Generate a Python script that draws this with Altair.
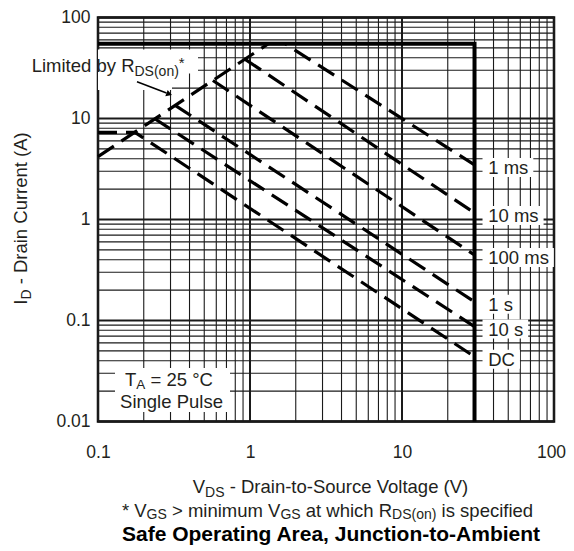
import altair as alt
import pandas as pd

# ---------------- data ----------------
x_grid = [0.1, 0.2, 0.3, 0.4, 0.5, 0.6, 0.7, 0.8, 0.9,
          1, 2, 3, 4, 5, 6, 7, 8, 9,
          10, 20, 30, 40, 50, 60, 70, 80, 90, 100]
y_grid = [0.01, 0.02, 0.03, 0.04, 0.05, 0.06, 0.07, 0.08, 0.09,
          0.1, 0.2, 0.3, 0.4, 0.5, 0.6, 0.7, 0.8, 0.9,
          1, 2, 3, 4, 5, 6, 7, 8, 9,
          10, 20, 30, 40, 50, 60, 70, 80, 90, 100]
x_ticks = [0.1, 1, 10, 100]
y_ticks = [0.01, 0.1, 1, 10, 100]

# package limit (solid thick)
limit_v = [0.1, 30, 30]
limit_i = [55, 55, 0.01]

# R_DS(on) limit (dashed, rising)
rds_v = [0.1, 1.32]
rds_i = [4.2, 55]

# pulse curves (dashed)
curve_names = ["1 ms", "10 ms", "100 ms", "1 s", "10 s", "DC"]
curve_v = [
    [1.32, 1.7, 30],
    [0.93, 30],
    [0.57, 30],
    [0.322, 30],
    [0.235, 30],
    [0.1, 0.175, 30],
]
curve_i = [
    [55, 55, 3.47],
    [38.5, 1.16],
    [23.8, 0.445],
    [13.5, 0.153],
    [10.0, 0.087],
    [7.3, 7.3, 0.0438],
]

FONT = "Liberation Sans"
INK = "#231f20"

# ---------------- text metrics (Arial / Liberation Sans) ----------------
REG = {' ': 278, '(': 333, ')': 333, '*': 389, '-': 333, '.': 278, ',': 278,
       '>': 584, '=': 584, '°': 400}
REG.update({d: 556 for d in '0123456789'})
REG.update(dict(A=667, B=667, C=722, D=722, E=667, F=611, G=778, H=722, I=278, J=500,
                K=667, L=556, M=833, N=722, O=778, P=667, Q=778, R=722, S=667, T=611,
                U=722, V=667, W=944, X=667, Y=667, Z=611))
REG.update(dict(a=556, b=556, c=500, d=556, e=556, f=278, g=556, h=556, i=222, j=222,
                k=500, l=222, m=833, n=556, o=556, p=556, q=556, r=333, s=500, t=278,
                u=556, v=500, w=722, x=500, y=500, z=500))


def tw(s, size):
    return sum(REG.get(c, 556) for c in s) * size / 1000.0


def seg_total(segs):
    return sum(tw(t, s) for t, s, _ in segs)


def seg_layers(segs, x0, y0, angle=0):
    out = []
    pos = 0.0
    for text, size, shift in segs:
        stripped = text.strip()
        lead = len(text) - len(text.lstrip())
        pos += lead * REG[' '] * size / 1000.0
        if angle == 0:
            x, y = x0 + pos, y0 + shift
        else:
            x, y = x0 + shift, y0 - pos
        out.append(
            alt.Chart(pd.DataFrame({"t": [stripped]}))
            .mark_text(align="left", baseline="alphabetic", fontSize=size,
                       font=FONT, color=INK, angle=angle)
            .encode(x=alt.value(x), y=alt.value(y), text="t:N")
        )
        pos += tw(stripped, size)
        trail = len(text) - len(text.rstrip())
        pos += trail * REG[' '] * size / 1000.0
    return out


def centered(segs, cx, y0):
    return seg_layers(segs, cx - seg_total(segs) / 2.0, y0)


# ---------------- scales / axes ----------------
xs = alt.Scale(type="log", domain=[0.1, 100], nice=False)
ys = alt.Scale(type="log", domain=[0.01, 100], nice=False)
xaxis = alt.Axis(values=x_ticks, format="~g", ticks=False, domain=False, grid=False,
                 labelFlush=False, labelPadding=22, labelFontSize=17.5, labelFont=FONT,
                 labelColor=INK, title="",
                 labelOffset={"condition": {"test": "datum.value >= 100", "value": -3},
                              "value": 0})
yaxis = alt.Axis(values=y_ticks, format="~g", ticks=False, domain=False, grid=False,
                 labelFlush=False, labelPadding=8, labelFontSize=17.5, labelFont=FONT,
                 labelColor=INK, title="")


def X(f):
    return alt.X(f, type="quantitative", scale=xs, axis=xaxis)


def Y(f):
    return alt.Y(f, type="quantitative", scale=ys, axis=yaxis)


layers = []

# grid
gx = pd.DataFrame({"V": x_grid,
                   "w": [2.0 if v in x_ticks else 1.1 for v in x_grid]})
gy = pd.DataFrame({"I": y_grid,
                   "w": [2.0 if v in y_ticks else 1.1 for v in y_grid]})
layers.append(alt.Chart(gx).mark_rule(color="#1a1a1a").encode(
    x=X("V"), strokeWidth=alt.StrokeWidth("w:Q", scale=None)))
layers.append(alt.Chart(gy).mark_rule(color="#1a1a1a").encode(
    y=Y("I"), strokeWidth=alt.StrokeWidth("w:Q", scale=None)))

# package limit
lim = pd.DataFrame({"V": limit_v, "I": limit_i, "k": list(range(len(limit_v)))})
layers.append(alt.Chart(lim).mark_line(color="black", strokeWidth=4, strokeJoin="miter").encode(
    x=X("V"), y=Y("I"), order="k:Q"))

# dashed curves
rows = []
for j, (vv, ii) in enumerate(zip([rds_v] + curve_v, [rds_i] + curve_i)):
    for k, (v, i) in enumerate(zip(vv, ii)):
        rows.append({"V": v, "I": i, "s": j, "k": k})
dash = pd.DataFrame(rows)
layers.append(alt.Chart(dash).mark_line(color="black", strokeWidth=3.2,
                                        strokeDash=[19, 9]).encode(
    x=X("V"), y=Y("I"), detail="s:N", order="k:Q"))

# right-hand labels with white boxes
LBL = 18.5
lab_rows = []
for name, vv, ii in zip(curve_names, curve_v, curve_i):
    v_end, i_end = vv[-1], ii[-1]
    w = tw(name, LBL)
    lab_rows.append({
        "name": name, "V": v_end, "I": i_end,
        "V1": v_end * 10 ** (8.0 / 152), "V2": v_end * 10 ** ((13.7 + w + 5.0) / 152),
        "I1": i_end * 10 ** (7.0 / 101), "I2": i_end * 10 ** (-12.0 / 101),
    })
lab = pd.DataFrame(lab_rows)
layers.append(alt.Chart(lab).mark_rect(color="white").encode(
    x=X("V1"), x2="V2", y=Y("I1"), y2="I2"))
layers.append(alt.Chart(lab).mark_text(align="left", baseline="middle", dx=13.7, dy=3,
                                       fontSize=LBL, font=FONT, color=INK).encode(
    x=X("V"), y=Y("I"), text="name:N"))

# annotation boxes
one = pd.DataFrame({"a": [0]})
for (x1, x2, y1, y2) in [(17, 132, 350.5, 394.5), (0, 74, 32, 72.5), (74, 100, 32, 56)]:
    layers.append(alt.Chart(one).mark_rect(color="white").encode(
        x=alt.value(x1), x2=alt.value(x2), y=alt.value(y1), y2=alt.value(y2)))

# "Limited by R_DS(on)*"
layers += seg_layers([("Limited by R", 18.5, 0), ("DS(on)", 14, 4), ("*", 15, -3.5)], -66.3, 54.2)
# arrow
layers.append(alt.Chart(one).mark_rule(color="black", strokeWidth=1.5).encode(
    x=alt.value(39), y=alt.value(64.2), x2=alt.value(68.5), y2=alt.value(75.5)))
layers.append(alt.Chart(one).mark_point(shape="triangle", filled=True, color="black",
                                        size=45, angle=110.8, opacity=1).encode(
    x=alt.value(70.3), y=alt.value(76.2)))

# T_A = 25 °C / Single Pulse
layers += centered([("T", 18.5, 0), ("A", 13.5, 3), (" = 25 °C", 18.5, 0)], 71, 368.7)
layers.append(alt.Chart(one).mark_text(align="center", baseline="alphabetic", fontSize=18.5,
                                       font=FONT, color=INK, text="Single Pulse").encode(
    x=alt.value(73.5), y=alt.value(390.5)))

# axis titles
ysegs = [("I", 18.5, 0), ("D", 14, 4), (" - Drain Current (A)", 18.5, 0)]
layers += seg_layers(ysegs, -70.7, 201 + seg_total(ysegs) / 2.0, angle=270)
layers += centered([("V", 18.5, 0), ("DS", 14, 3.5), (" - Drain-to-Source Voltage (V)", 18.5, 0)],
                   233, 475.8)
layers += centered([("* V", 18.5, 0), ("GS", 14, 2.5), (" > minimum V", 18.5, 0), ("GS", 14, 2.5),
                    (" at which R", 18.5, 0), ("DS(on)", 14, 2.5), (" is specified", 18.5, 0)],
                   229.5, 499.0)
layers.append(alt.Chart(one).mark_text(align="center", baseline="alphabetic", fontSize=21,
                                       fontWeight="bold", font=FONT, color="black",
                                       text="Safe Operating Area, Junction-to-Ambient").encode(
    x=alt.value(233), y=alt.value(523.5)))

chart = alt.layer(*layers).properties(
    width=456, height=404,
    autosize=alt.AutoSizeParams(type="none"),
    padding={"left": 90, "top": 9.5, "right": 12, "bottom": 128},
).configure_view(stroke="black", strokeWidth=2.5)

chart.save("out.html", embed_options={"renderer": "svg", "actions": False})
